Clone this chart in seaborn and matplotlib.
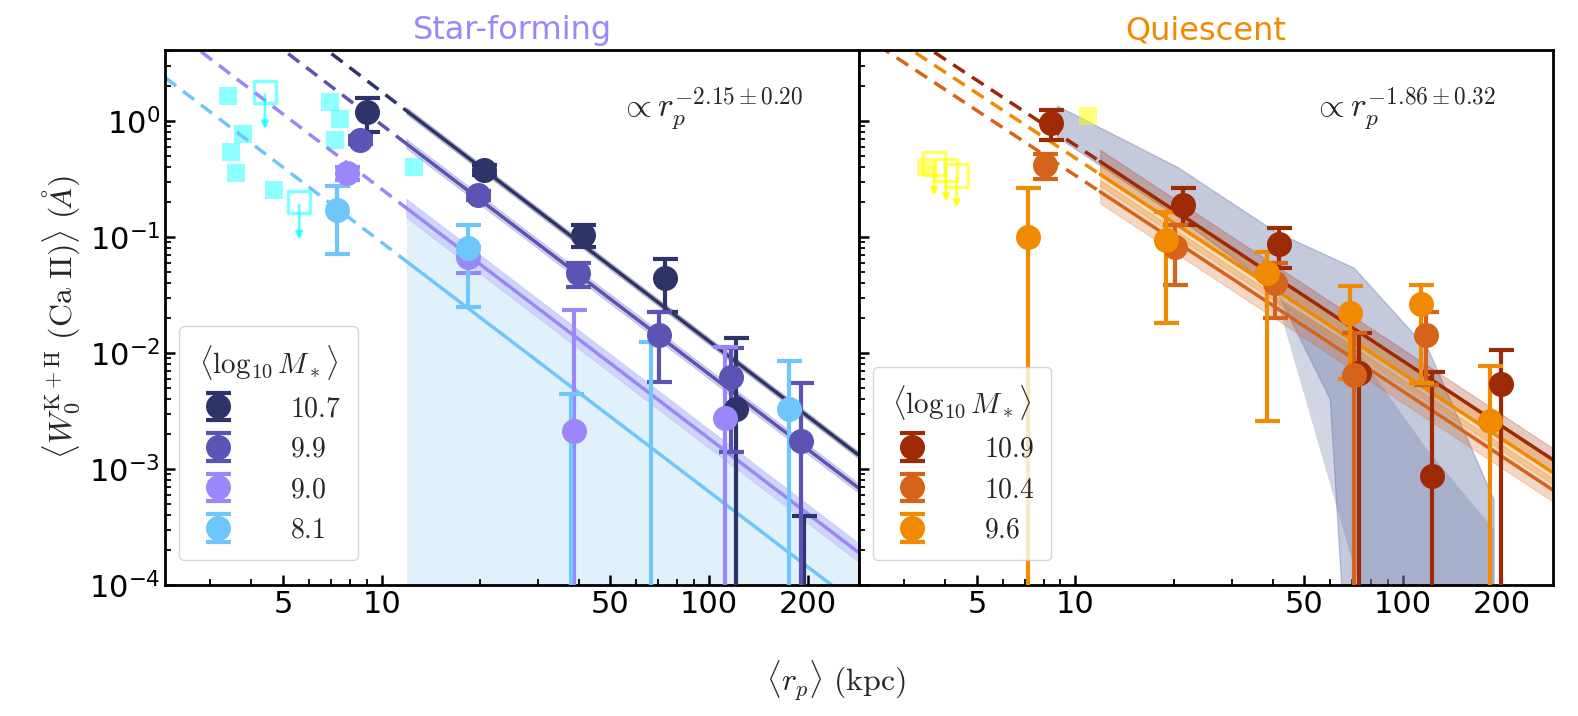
import numpy as np
import matplotlib
matplotlib.use("Agg")
import matplotlib.pyplot as plt
import seaborn as sns
from matplotlib.ticker import FuncFormatter, LogLocator, NullFormatter

sns.set_style("ticks")
plt.rcParams["mathtext.fontset"] = "cm"
plt.rcParams["font.family"] = "DejaVu Sans"

# ---- data ----
# star-forming: mass bins, x (kpc), W0 (A), upper / lower error bound
sf_labels = ["10.7", "9.9", "9.0", "8.1"]
sf_colors = ["#2e3469", "#5b54b5", "#9b87fa", "#6ec6fa"]
sf_x = [[9.0, 20.5, 41.3, 73.3, 121, 195],
        [8.6, 19.7, 39.8, 70.4, 117, 191],
        [7.85, 18.3, 38.7, 112],
        [7.33, 18.3, 38.0, 66.5, 175]]
sf_y = [[1.20, 0.38, 0.105, 0.044, 0.0033, 1e-6],
        [0.69, 0.23, 0.0486, 0.0143, 0.0062, 0.00175],
        [0.354, 0.0676, 0.00214, 0.00273],
        [0.173, 0.08, 1e-6, 1e-6, 0.00327]]
sf_hi = [[1.6, 0.42, 0.128, 0.065, 0.0134, 3.9e-4],
         [0.75, 0.25, 0.06, 0.0227, 0.0111, 0.0055],
         [0.40, 0.0826, 0.0235, 0.0113],
         [0.277, 0.127, 0.0044, 0.0125, 0.0085]]
sf_lo = [[0.81, 0.34, 0.082, 0.0227, 1e-6, 1e-6],
         [0.63, 0.21, 0.037, 0.00566, 0.00141, 1e-6],
         [0.31, 0.049, 1e-6, 1e-6],
         [0.072, 0.025, 1e-6, 1e-6, 1e-6]]
sf_amp10 = [1.79, 0.93, 0.259, 0.090]   # fit value at 10 kpc
sf_band = [0.03, 0.04, 0.08, 0.0]       # dex
sf_slope = -2.15

q_labels = ["10.9", "10.4", "9.6"]
q_colors = ["#9e2a05", "#d5631a", "#f08a00"]
q_x = [[8.4, 21.3, 41.9, 73.5, 123, 200],
       [8.08, 20.2, 40.7, 71, 118],
       [7.18, 18.9, 38.4, 68.9, 113.5, 185]]
q_y = [[0.955, 0.189, 0.088, 0.00676, 0.00087, 0.0054],
       [0.418, 0.0826, 0.04, 0.0065, 0.0143],
       [0.1, 0.094, 0.0486, 0.0223, 0.0264, 0.0026]]
q_hi = [[1.24, 0.263, 0.12, 0.015, 0.0069, 0.0107],
        [0.52, 0.127, 0.06, 0.015, 0.0227],
        [0.263, 0.165, 0.075, 0.038, 0.039, 0.0077]]
q_lo = [[0.686, 0.127, 0.054, 1e-6, 1e-6, 1e-6],
        [0.32, 0.039, 0.02, 1e-6, 0.0053],
        [1e-6, 0.018, 0.0026, 0.006, 0.0055, 1e-6]]
q_amp10 = [0.62, 0.34, 0.48]
q_band = [0.10, 0.10, 0.10]
q_slope = -1.86

# literature squares
cyan_x = [3.39, 3.76, 3.47, 3.59, 4.68, 6.97, 7.48, 7.2, 12.6]
cyan_y = [1.64, 0.77, 0.54, 0.36, 0.254, 1.47, 1.05, 0.69, 0.40]
cyan_lim_x = [4.4, 5.6]
cyan_lim_y = [1.79, 0.20]
yel_x = [3.49, 10.9]
yel_y = [0.40, 1.1]
yel_lim_x = [3.7, 4.02, 4.33]
yel_lim_y = [0.43, 0.38, 0.34]

# grey comparison region (quiescent panel)
grey_x = [8.8, 20.5, 41, 71, 120, 190, 190, 72, 60, 41, 20.5, 8.8]
grey_y = [1.35, 0.40, 0.11, 0.054, 0.0105, 5.4e-4, 1e-6, 1e-6, 0.004, 0.035, 0.15, 0.73]
grey2_x = [41, 70, 118, 190, 190, 118]
grey2_y = [0.03, 0.012, 0.0015, 3e-4, 1e-6, 1e-6]

XLIM = (2.18, 287)
YLIM = (1e-4, 4.1)
X_FIT = 11.9

fig, axes = plt.subplots(1, 2, figsize=(15.78, 7.16), dpi=100, sharey=True)
fig.subplots_adjust(left=0.1046, right=0.984, top=0.930, bottom=0.183, wspace=0)


def draw_fit(ax, amp, slope, band, color):
    xd = np.geomspace(XLIM[0], X_FIT, 50)
    xs = np.geomspace(X_FIT, XLIM[1], 50)
    sns.lineplot(x=xd, y=amp * (xd / 10) ** slope, ax=ax, color=color, lw=2.5,
                 linestyle=(0, (4, 2.5)), legend=False)
    ys = amp * (xs / 10) ** slope
    sns.lineplot(x=xs, y=ys, ax=ax, color=color, lw=2.5, legend=False)
    if band > 0:
        ax.fill_between(xs, ys / 10 ** band, ys * 10 ** band, color=color, alpha=0.25, lw=0.8)


def draw_points(ax, xs, ys, his, los, color, label):
    xs, ys, his, los = map(np.array, (xs, ys, his, los))
    ax.errorbar(xs, ys, yerr=[ys - los, his - ys], fmt="o", color=color, ms=17,
                elinewidth=3, capsize=9, capthick=3, label=label, zorder=5)


def mtick(v, _):
    e = int(round(np.log10(v)))
    return r"$\mathregular{10^{%d}}$" % e


def style_legend(ax):
    leg = ax.legend(title=r"$\langle \log_{10} M_* \rangle$", loc="lower left", fontsize=20,
                    title_fontsize=21, handlelength=1.6, borderpad=0.6, labelspacing=0.45,
                    handletextpad=1.8, bbox_to_anchor=(0.0, 0.02))
    leg.get_frame().set_edgecolor("#cccccc")
    for t in leg.get_texts():
        t.set_text(r"$%s$" % t.get_text())


# ---- star-forming ----
ax = axes[0]
ax.fill_between([X_FIT, XLIM[1]], [1e-6, 1e-6],
                [sf_amp10[2] * 10 ** 0.08 * (X_FIT / 10) ** sf_slope,
                 sf_amp10[2] * 10 ** 0.08 * (XLIM[1] / 10) ** sf_slope],
                color="#c8e6fb", alpha=0.55, lw=0, zorder=0)
ax.scatter(cyan_x, cyan_y, marker="s", s=160, color="cyan", alpha=0.45, lw=0, zorder=2)
ax.scatter(cyan_lim_x, cyan_lim_y, marker="s", s=260, facecolor="none",
           edgecolor="cyan", alpha=0.5, lw=2.5, zorder=2)
for xx, yy in zip(cyan_lim_x, cyan_lim_y):
    ax.annotate("", xy=(xx, yy * 0.45), xytext=(xx, yy),
                arrowprops=dict(arrowstyle="-|>", color="cyan", alpha=0.6, lw=2))
for i in range(4):
    draw_fit(ax, sf_amp10[i], sf_slope, sf_band[i], sf_colors[i])
for i in range(4):
    draw_points(ax, sf_x[i], sf_y[i], sf_hi[i], sf_lo[i], sf_colors[i], sf_labels[i])
ax.text(0.655, 0.875, r"$\propto r_p^{-2.15 \pm 0.20}$", transform=ax.transAxes, fontsize=24)
ax.set_title("Star-forming", color="#9b87fa", fontsize=23, pad=8)
style_legend(ax)

# ---- quiescent ----
ax = axes[1]
ax.fill(grey_x, grey_y, color="#6d79a8", alpha=0.4, lw=1, zorder=1)
ax.fill(grey2_x, grey2_y, color="#6d79a8", alpha=0.3, lw=0, zorder=1)
ax.scatter(yel_x, yel_y, marker="s", s=160, color="yellow", alpha=0.5, lw=0, zorder=2)
ax.scatter(yel_lim_x, yel_lim_y, marker="s", s=260, facecolor="none",
           edgecolor="yellow", alpha=0.6, lw=2.5, zorder=2)
for xx, yy in zip(yel_lim_x, yel_lim_y):
    ax.annotate("", xy=(xx, yy * 0.5), xytext=(xx, yy),
                arrowprops=dict(arrowstyle="-|>", color="yellow", alpha=0.7, lw=2))
for i in range(3):
    draw_fit(ax, q_amp10[i], q_slope, q_band[i], q_colors[i])
for i in range(3):
    draw_points(ax, q_x[i], q_y[i], q_hi[i], q_lo[i], q_colors[i], q_labels[i])
ax.text(0.655, 0.875, r"$\propto r_p^{-1.86 \pm 0.32}$", transform=ax.transAxes, fontsize=24)
ax.set_title("Quiescent", color="#f08a00", fontsize=23, pad=8)
style_legend(ax)

for ax in axes:
    ax.set_xscale("log")
    ax.set_yscale("log")
    ax.set_xlim(*XLIM)
    ax.set_ylim(*YLIM)
    ax.set_xticks([5, 10, 50, 100, 200])
    ax.set_xticklabels(["5", "10", "50", "100", "200"])
    ax.xaxis.set_minor_formatter(NullFormatter())
    ax.yaxis.set_major_locator(LogLocator(base=10, numticks=10))
    ax.yaxis.set_major_formatter(FuncFormatter(mtick))
    ax.tick_params(which="both", direction="in", labelsize=22, color="black", labelcolor="black")
    ax.tick_params(which="major", length=7, width=1.8)
    ax.tick_params(which="minor", length=4, width=1.3)
    for s in ax.spines.values():
        s.set_linewidth(2)
        s.set_color("black")
axes[1].tick_params(labelleft=False)

axes[0].set_ylabel(r"$\langle W_0^{\rm K+H}\ {\rm (Ca\ II)}\rangle\ (\AA)$", fontsize=23)
fig.text(0.53, 0.035, r"$\langle r_p \rangle\ {\rm (kpc)}$", ha="center", fontsize=23)

fig.savefig("out.png", dpi=100)
